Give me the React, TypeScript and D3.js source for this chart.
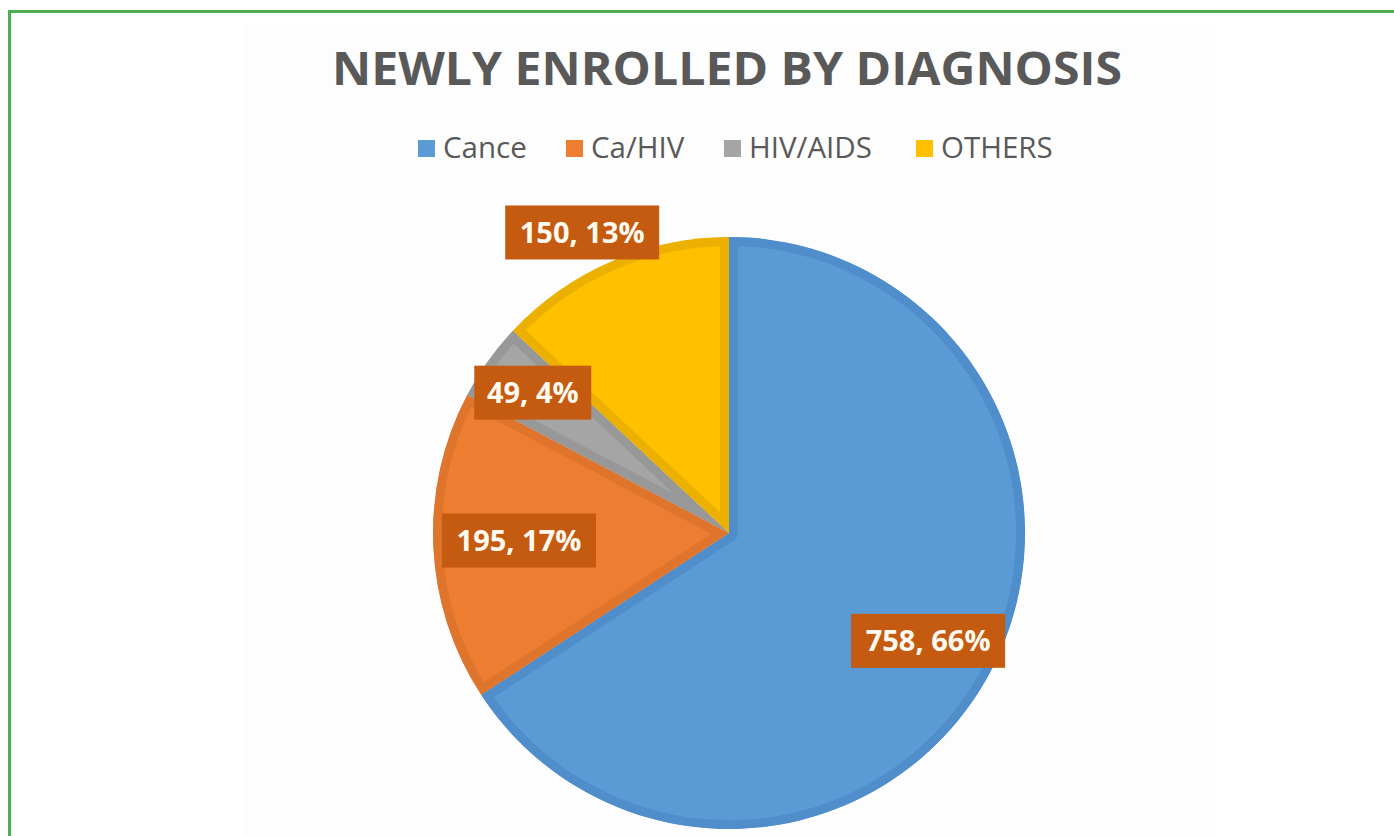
import * as React from 'react'
import * as d3 from 'd3'

const title = 'NEWLY ENROLLED BY DIAGNOSIS'
const categories = ['Cance', 'Ca/HIV', 'HIV/AIDS', 'OTHERS']
const values = [758, 195, 49, 150]
const fills = ['#5b9bd5', '#ed7d31', '#a5a5a5', '#ffc000']
const bands = ['#4f8dcb', '#df742c', '#989898', '#ecb100']

const W = 1394
const H = 836
const cx = 729
const cy = 533
const R = 296
const band = 9

// where each data label sits: fraction of radius, angle shift in degrees
const labelPlace = [
  [0.765, 0],
  [0.71, 0.6],
  [0.815, 0.1],
  [1.13, -2.6],
]
const legendX = [418, 566, 724, 916]

const App = () => {
  const total = d3.sum(values)
  const pie = d3.pie<number>().sort(null).startAngle(0).endAngle(2 * Math.PI)
  const slices = pie(values)
  const arc = d3.arc<d3.PieArcDatum<number>>().innerRadius(0).outerRadius(R)

  return (
    <svg width={W} height={H} style={{ position: 'absolute', left: 0, top: 0, display: 'block' }}>
      <rect x={0} y={0} width={W} height={H} fill="#ffffff" />
      <rect x={245} y={25} width={970} height={H - 25} fill="#fdfdfd" />
      <rect x={9.5} y={11.5} width={W + 20} height={H + 20} fill="none" stroke="#4cb050" strokeWidth={3} />

      <text x={727} y={85} textAnchor="middle" fontFamily="'Open Sans', sans-serif" fontWeight={700}
        fontSize={46} fill="#595959" textLength={790} lengthAdjust="spacingAndGlyphs">{title}</text>

      {categories.map((c, i) => (
        <g key={c}>
          <rect x={legendX[i]} y={140} width={17} height={17} fill={fills[i]} />
          <text x={legendX[i] + 25} y={158} fontFamily="'Open Sans', sans-serif" fontSize={29.5} fill="#595959">{c}</text>
        </g>
      ))}

      <defs>
        {slices.map((s, i) => (
          <clipPath key={i} id={`clip${i}`}>
            <path d={arc(s) || ''} />
          </clipPath>
        ))}
      </defs>
      <g transform={`translate(${cx}, ${cy})`}>
        {slices.map((s, i) => (
          <path key={i} d={arc(s) || ''} fill={fills[i]} stroke={bands[i]} strokeWidth={band * 2}
            strokeLinejoin="round" clipPath={`url(#clip${i})`} />
        ))}
        {slices.map((s, i) => {
          const [f, shift] = labelPlace[i]
          const a = (s.startAngle + s.endAngle) / 2 + (shift * Math.PI) / 180
          const x = Math.sin(a) * R * f
          const y = -Math.cos(a) * R * f
          const label = `${values[i]}, ${Math.round((values[i] / total) * 100)}%`
          const bw = label.length * 18.5 + 6
          return (
            <g key={i} transform={`translate(${x}, ${y})`}>
              <rect x={-bw / 2} y={-27} width={bw} height={54} fill="#c55a11" />
              <text x={0} y={10.5} textAnchor="middle" fontFamily="'Open Sans', sans-serif" fontWeight={700}
                fontSize={29} fill="#fffaf0">{label}</text>
            </g>
          )
        })}
      </g>
    </svg>
  )
}

export default App
